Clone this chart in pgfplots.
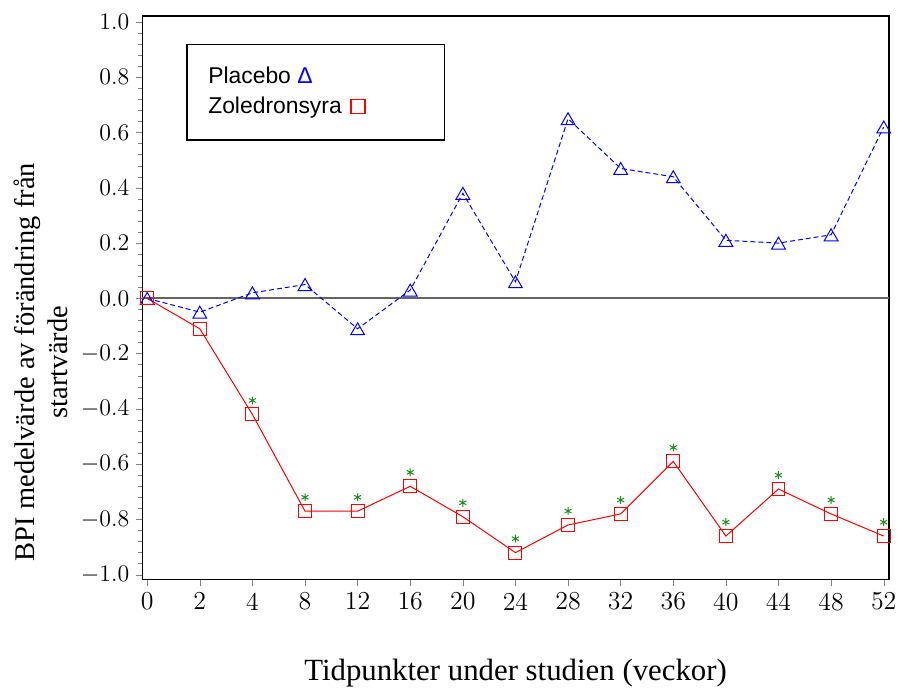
\documentclass[border=0pt]{standalone}
\usepackage{fontspec}
\usepackage{pgfplots}
\usepackage{pgfplotstable}
\pgfplotsset{compat=1.18}
\newfontfamily\arialfont{Liberation Sans}
\newfontfamily\timesfont{Liberation Serif}
\definecolor{plblue}{RGB}{0,0,255}
\definecolor{zolred}{RGB}{255,0,0}
\definecolor{stargreen}{RGB}{30,140,30}
\definecolor{zerogray}{RGB}{100,100,100}

% week index, placebo, zoledronsyra
\pgfplotstableread{
idx placebo zol
0   0.00   0.00
1  -0.05  -0.11
2   0.02  -0.42
3   0.05  -0.77
4  -0.11  -0.77
5   0.03  -0.68
6   0.38  -0.79
7   0.06  -0.92
8   0.65  -0.82
9   0.47  -0.78
10  0.44  -0.59
11  0.21  -0.86
12  0.20  -0.69
13  0.23  -0.78
14  0.62  -0.86
}\bpidata

\begin{document}
\begin{tikzpicture}
\begin{axis}[
    scale only axis,
    width=375.5pt, height=283.5pt,
    xmin=-0.095, xmax=14.1,
    ymin=-1.018, ymax=1.022,
    xtick={0,...,14},
    xticklabels={0,2,4,8,12,16,20,24,28,32,36,40,44,48,52},
    ytick={-1,-0.8,...,1.01},
    minor y tick num=4,
    tick align=outside,
    tick pos=left,
    major tick length=3pt,
    minor tick length=2pt,
    ticklabel style={font=\fontsize{13}{15}\selectfont},
    yticklabel style={/pgf/number format/fixed, /pgf/number format/fixed zerofill, /pgf/number format/precision=1},
    axis line style={line width=0.6pt},
    xlabel={Tidpunkter under studien (veckor)},
    xlabel style={font=\timesfont\fontsize{15.5}{18}\selectfont, at={(axis description cs:0.5,-0.165)}, anchor=center},
    ylabel={BPI medelvärde av förändring från\\startvärde},
    ylabel style={font=\timesfont\fontsize{14.3}{16.5}\selectfont, align=center, at={(axis description cs:-0.0905,0.386)}, anchor=south},
]
\addplot[zerogray, line width=0.9pt, forget plot] coordinates {(-0.095,0) (14.1,0)};
\addplot[plblue, line width=0.5pt, dash pattern=on 2.5pt off 1.5pt,
    mark=triangle, mark size=4pt, mark options={solid, line width=0.5pt, yshift=-1pt}]
    table[x=idx, y=placebo] {\bpidata};
\addplot[zolred, line width=0.5pt,
    mark=square, mark size=3.25pt, mark options={solid, line width=0.5pt}]
    table[x=idx, y=zol] {\bpidata};
\addplot[only marks, stargreen, mark=asterisk, mark size=2pt,
    mark options={line width=0.5pt, yshift=7pt}, skip coords between index={0}{2}]
    table[x=idx, y=zol] {\bpidata};

\draw[line width=0.8pt] (axis description cs:0.06,0.949) rectangle (axis description cs:0.405,0.7795);
\node[anchor=west, inner sep=0pt, font=\arialfont\fontsize{11.5}{14}\selectfont]
    at (axis description cs:0.088,0.894) {Placebo \textcolor{plblue}{Δ}};
\node[anchor=west, inner sep=0pt, font=\arialfont\fontsize{11.5}{14}\selectfont] (zoltext)
    at (axis description cs:0.088,0.838) {Zoledronsyra};
\draw[zolred, line width=0.8pt] ([xshift=4.5pt,yshift=-3.2pt]zoltext.east) rectangle ++(7pt,7pt);
\end{axis}
\path (current axis.south west) -- ++(-71.5pt,-53pt);
\path (current axis.north east) -- ++(4.5pt,8pt);
\end{tikzpicture}
\end{document}
